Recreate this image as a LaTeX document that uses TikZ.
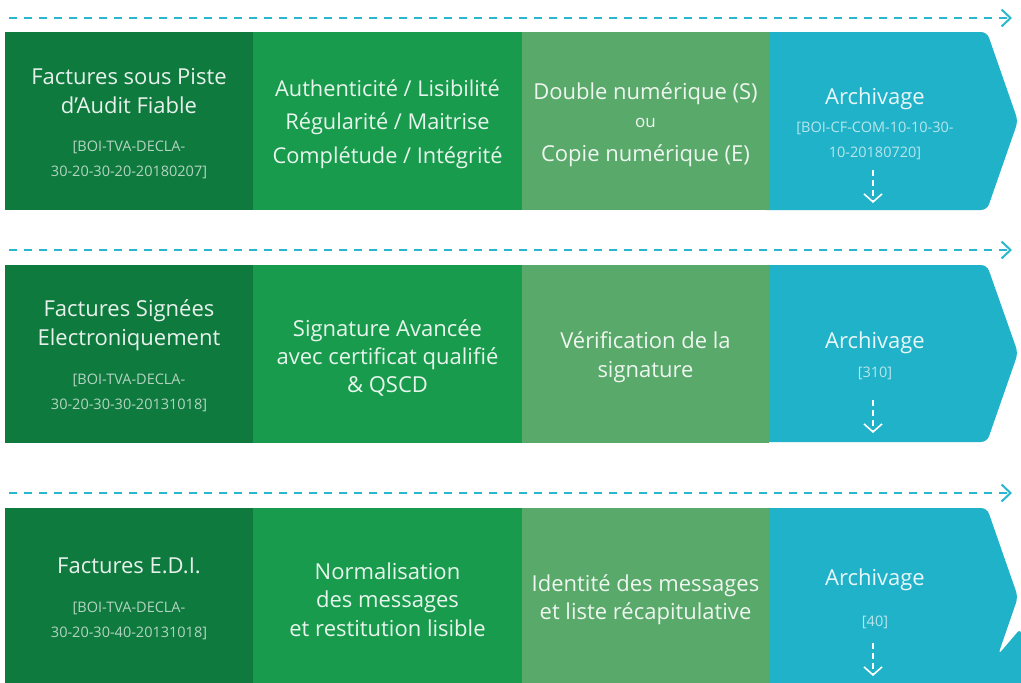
\documentclass[tikz,border=0pt]{standalone}
\usepackage{fontspec}
\setmainfont{Open Sans}
\usetikzlibrary{arrows.meta}

\definecolor{vertfonce}{HTML}{0F7A3E}
\definecolor{vert}{HTML}{189B4C}
\definecolor{vertclair}{HTML}{59A96A}
\definecolor{cyanarch}{HTML}{20B2C8}
\definecolor{ligne}{HTML}{29B6CF}

\begin{document}
\begin{tikzpicture}[
        x=1pt, y=-1pt,
        block/.style={rectangle, inner sep=0pt, outer sep=0pt, minimum height=178pt},
        main/.style={text=white, text opacity=0.9, align=center, inner sep=0pt, font=\fontsize{22}{29}\selectfont},
        sub/.style={text=white, text opacity=0.68, align=center, inner sep=0pt, font=\fontsize{14.5}{25}\selectfont}
        ]
    % Define styles
    \tikzstyle{flow} = [draw=ligne, line width=2pt, dash pattern=on 8pt off 7pt, -{Straight Barb[length=9pt,width=17pt,line width=2pt]}]
    \tikzstyle{down} = [draw=white, line width=1.6pt, dash pattern=on 6pt off 4pt, -{Straight Barb[length=8pt,width=18pt,line width=1.6pt]}]

    \useasboundingbox (0,0) rectangle (1021,683);

    % Define archive chevrons
    \fill[cyanarch, rounded corners=6pt] (760,32) -- (987,32) -- (1018,121) -- (987,210) -- (760,210) -- cycle;
    \fill[cyanarch, rounded corners=6pt] (760,265) -- (987,265) -- (1018,353) -- (987,442) -- (760,442) -- cycle;
    \fill[cyanarch, rounded corners=6pt] (760,508) -- (987,508) -- (1018,597) -- (998,655) -- (1021,628) -- (1021,690) -- (760,690) -- cycle;

    % Define block nodes
    \node[block, fill=vertfonce, minimum width=248pt] (B11) at (129,121) {};
    \node[block, fill=vert, minimum width=269pt] (B12) at (387.5,121) {};
    \node[block, fill=vertclair, minimum width=247pt] (B13) at (645.5,121) {};
    \node[block, fill=vertfonce, minimum width=248pt] (B21) at (129,353.5) {};
    \node[block, fill=vert, minimum width=269pt] (B22) at (387.5,353.5) {};
    \node[block, fill=vertclair, minimum width=247pt] (B23) at (645.5,353.5) {};
    \node[block, fill=vertfonce, minimum width=248pt] (B31) at (129,597) {};
    \node[block, fill=vert, minimum width=269pt] (B32) at (387.5,597) {};
    \node[block, fill=vertclair, minimum width=247pt] (B33) at (645.5,597) {};

    % Define text nodes of the first row
    \node[main] (T11) at (129,91) {Factures sous Piste\\d’Audit Fiable};
    \node[sub] (S11) at (129,160) {[BOI-TVA-DECLA-\\30-20-30-20-20180207]};
    \node[main, font=\fontsize{21.8}{33.5}\selectfont] (T12) at (387.5,124) {Authenticité / Lisibilité\\Régularité / Maitrise\\Complétude / Intégrité};
    \node[main] (T13a) at (645.5,94) {Double numérique (S)};
    \node[main, font=\fontsize{17}{20}\selectfont] (T13b) at (645.5,123) {ou};
    \node[main] (T13c) at (645.5,156) {Copie numérique (E)};
    \node[main] (T14) at (875,99) {Archivage};
    \node[sub] (S14) at (875,141) {[BOI-CF-COM-10-10-30-\\10-20180720]};

    % Define text nodes of the second row
    \node[main] (T21) at (129,325) {Factures Signées\\Electroniquement};
    \node[sub] (S21) at (129,393) {[BOI-TVA-DECLA-\\30-20-30-30-20131018]};
    \node[main, font=\fontsize{22}{28}\selectfont] (T22) at (387.5,357.5) {Signature Avancée\\avec certificat qualifié\\\& QSCD};
    \node[main] (T23) at (645.5,357.5) {Vérification de la\\signature};
    \node[main] (T24) at (875,343) {Archivage};
    \node[sub] (S24) at (875,373) {[310]};

    % Define text nodes of the third row
    \node[main] (T31) at (129,566) {Factures E.D.I.};
    \node[sub] (S31) at (129,621) {[BOI-TVA-DECLA-\\30-20-30-40-20131018]};
    \node[main, font=\fontsize{22}{28.5}\selectfont] (T32) at (387.5,599.5) {Normalisation\\des messages\\et restitution lisible};
    \node[main, font=\fontsize{22}{28}\selectfont] (T33) at (645.5,600) {Identité des messages\\et liste récapitulative};
    \node[main] (T34) at (875,580) {Archivage};
    \node[sub] (S34) at (875,622) {[40]};

    % Define end points of the arrows
    \coordinate (L1s) at (9,18);
    \coordinate (L1e) at (1012,18);
    \coordinate (L2s) at (9,250);
    \coordinate (L2e) at (1012,250);
    \coordinate (L3s) at (9,493);
    \coordinate (L3e) at (1012,493);
    \coordinate (D1s) at (873,170);
    \coordinate (D1e) at (873,203);
    \coordinate (D2s) at (873,400);
    \coordinate (D2e) at (873,433);
    \coordinate (D3s) at (873,643);
    \coordinate (D3e) at (873,676);

    % Draw the dashed timelines
    \draw[flow] (L1s) -- (L1e);
    \draw[flow] (L2s) -- (L2e);
    \draw[flow] (L3s) -- (L3e);

    % Draw the arrows going down from the archives
    \draw[down] (D1s) -- (D1e);
    \draw[down] (D2s) -- (D2e);
    \draw[down] (D3s) -- (D3e);

\end{tikzpicture}
\end{document}
